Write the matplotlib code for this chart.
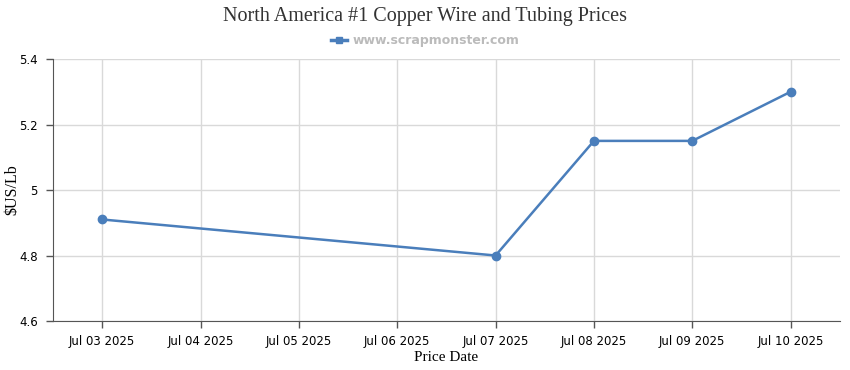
import pandas as pd
import matplotlib.pyplot as plt
import matplotlib.dates as mdates
from matplotlib.lines import Line2D

dates = ["2025-07-03", "2025-07-07", "2025-07-08", "2025-07-09", "2025-07-10"]
prices = [4.91, 4.80, 5.15, 5.15, 5.30]
tick_dates = pd.date_range("2025-07-03", "2025-07-10", freq="D")
yticks = [4.6, 4.8, 5.0, 5.2, 5.4]
ytick_labels = ["4.6", "4.8", "5", "5.2", "5.4"]

line_color = "#4a7ebb"
serif = ["Liberation Serif", "DejaVu Serif"]

x = pd.to_datetime(dates)

fig = plt.figure(figsize=(8.5, 3.7), dpi=100)
ax = fig.add_axes([0.0624, 0.1324, 0.9256, 0.7081])

ax.plot(x, prices, color=line_color, lw=1.8, marker="o", ms=6, zorder=3)

ax.set_xlim(tick_dates[0] - pd.Timedelta(hours=12), tick_dates[-1] + pd.Timedelta(hours=12))
ax.set_xticks(tick_dates)
ax.xaxis.set_major_formatter(mdates.DateFormatter("%b %d %Y"))
ax.set_ylim(4.6, 5.4)
ax.set_yticks(yticks)
ax.set_yticklabels(ytick_labels)

ax.grid(True, color="#d9d9d9", lw=1)
ax.set_axisbelow(True)
for s in ["top", "right"]:
    ax.spines[s].set_visible(False)
for s in ["left", "bottom"]:
    ax.spines[s].set_color("#555555")
ax.tick_params(axis="both", colors="#555555", labelcolor="black", labelsize=8.5, length=5, width=1)
ax.tick_params(axis="x", pad=5)
ax.tick_params(axis="y", pad=6)

ax.set_xlabel("Price Date", family=serif, fontsize=11, labelpad=2)
ax.set_ylabel("$US/Lb", family=serif, fontsize=11.5)
ax.yaxis.set_label_coords(-0.041, 0.5)

fig.text(0.5, 0.955, "North America #1 Copper Wire and Tubing Prices", family=serif,
         fontsize=14.5, color="#333333", ha="center", va="center")

handle = Line2D([], [], color=line_color, lw=2.5, marker="s", ms=5)
leg = fig.legend([handle], ["www.scrapmonster.com"], loc="center", bbox_to_anchor=(0.5, 0.89),
                 frameon=False, fontsize=9, handlelength=1.3, handletextpad=0.4)
for t in leg.get_texts():
    t.set_color("#bbbbbb")
    t.set_fontweight("bold")

fig.savefig("out.png", dpi=100)
